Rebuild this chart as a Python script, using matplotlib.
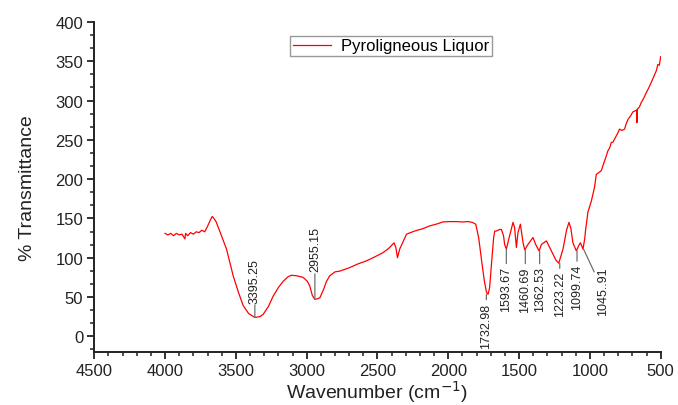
import matplotlib
matplotlib.use("Agg")
import matplotlib.pyplot as plt
from matplotlib.ticker import MultipleLocator

plt.rcParams['font.family'] = ['Liberation Sans', 'DejaVu Sans']

# FTIR spectrum
wavenumber = [4000, 3980, 3960, 3940, 3920, 3900, 3880, 3860, 3855, 3840, 3820, 3800,
              3780, 3760, 3740, 3720, 3700, 3680, 3667, 3655, 3640, 3610, 3566, 3519,
              3480, 3448, 3410, 3366, 3330, 3307, 3270, 3237, 3200, 3166, 3130, 3107,
              3070, 3025, 2995, 2978, 2960, 2942, 2920, 2907, 2880, 2860, 2837, 2800,
              2766, 2695, 2640, 2578, 2520, 2460, 2420, 2383, 2370, 2359, 2343, 2320,
              2295, 2237, 2180, 2131, 2080, 2037, 1990, 1943, 1900, 1860, 1830, 1806,
              1785, 1766, 1745, 1730, 1719, 1708, 1696, 1680, 1672, 1660, 1637, 1625,
              1610, 1602, 1590, 1567, 1543, 1532, 1519, 1508, 1491, 1472, 1460, 1437,
              1402, 1383, 1359, 1342, 1307, 1272, 1240, 1220, 1190, 1165, 1148, 1135,
              1120, 1096, 1080, 1068, 1060, 1049, 1037, 1030, 1014, 990, 967, 955,
              940, 920, 897, 885, 873, 860, 849, 838, 826, 805, 791, 775,
              755, 745, 731, 715, 696, 680, 670, 668, 665, 650, 637, 620,
              602, 585, 567, 550, 531, 520, 510, 500]
transmittance = [131, 129, 131, 128, 131, 129, 130, 124, 131, 128, 132, 130,
                 133, 132, 135, 133, 140, 148, 152.5, 150, 146, 132, 111, 77,
                 55, 39, 29, 24, 25, 28, 38, 51, 62, 70, 76, 77.7,
                 77, 75, 70, 64, 52, 47, 48, 49, 60, 70, 77, 82,
                 83, 87.5, 92, 96, 101, 106.6, 112, 119, 113, 100, 111, 120,
                 130, 134, 137, 140.5, 143, 145.6, 146, 146, 145.5, 146, 145, 142.7,
                 125, 98, 70, 56, 53.5, 62, 90, 125, 134, 134, 136, 136,
                 128, 117, 111, 128, 145, 138.5, 113, 132, 142.7, 119, 110, 117,
                 125.7, 117, 108.7, 117, 121.4, 108.7, 97, 93, 111, 135, 145, 138,
                 119, 108.7, 115, 119, 116, 111, 123.6, 136, 158, 172, 190, 206,
                 208, 210.6, 223, 229, 236, 240, 246.7, 247, 251, 258, 263.7, 262,
                 263.7, 270, 276, 280, 285.7, 287, 288, 272, 289, 292, 297.7, 303,
                 310, 316, 323, 330, 338, 346, 345, 356]

# peak labels: text, peak position, curve value, label anchor value, side
peak_labels = ["3395.25", "2955.15", "1732.98", "1593.67", "1460.69",
               "1362.53", "1223.22", "1099.74", "1045..91"]
peak_x = [3366, 2942, 1731, 1590, 1456, 1355, 1213, 1091, 1045]
peak_y = [24, 47, 53.5, 111, 110, 108.7, 93, 108.7, 111]
label_x = [3366, 2942, 1731, 1590, 1456, 1355, 1213, 1091, 908]
label_y = [43, 83, 43, 89, 89, 89, 83, 92, 89]
label_above = [True, True, False, False, False, False, False, False, False]

fig = plt.figure(figsize=(6.78, 4.06), dpi=100)
ax = fig.add_axes([0.139, 0.1305, 0.8355, 0.8128])

ax.plot(wavenumber, transmittance, color='#ff0000', lw=0.9, label="Pyroligneous Liquor")

for t, px, py, lx, ly, above in zip(peak_labels, peak_x, peak_y, label_x, label_y, label_above):
    ax.annotate(t, xy=(px, py), xytext=(lx, ly), rotation=90, fontsize=9,
                ha='center', va='bottom' if above else 'top', color='#222222',
                arrowprops=dict(arrowstyle='-', color='#707070', lw=0.9,
                                shrinkA=0, shrinkB=0))

ax.set_xlim(4500, 500)
ax.set_ylim(-20, 400)
ax.xaxis.set_major_locator(MultipleLocator(500))
ax.xaxis.set_minor_locator(MultipleLocator(100))
ax.yaxis.set_major_locator(MultipleLocator(50))
ax.yaxis.set_minor_locator(MultipleLocator(50 / 3))

for side in ['top', 'right']:
    ax.spines[side].set_visible(False)
for side in ['left', 'bottom']:
    ax.spines[side].set_linewidth(1.4)
    ax.spines[side].set_color('#222222')

ax.tick_params(which='major', direction='out', length=5, width=1.3, labelsize=12,
               colors='#222222', pad=3)
ax.tick_params(which='minor', direction='out', length=3, width=1.1, colors='#222222')

ax.set_xlabel("Wavenumber (cm$^{-1}$)", fontsize=14, color='#222222', labelpad=0)
ax.set_ylabel("% Transmittance", fontsize=14, color='#222222', labelpad=14)

leg = ax.legend(loc='upper left', bbox_to_anchor=(290 / 678, 1 - 37 / 406),
                bbox_transform=fig.transFigure, fontsize=12, frameon=True,
                fancybox=False, edgecolor='#808080', borderpad=0.15,
                handlelength=2.3, handletextpad=0.6, borderaxespad=0)
leg.get_frame().set_linewidth(1.0)

fig.savefig("out.png", dpi=100)
